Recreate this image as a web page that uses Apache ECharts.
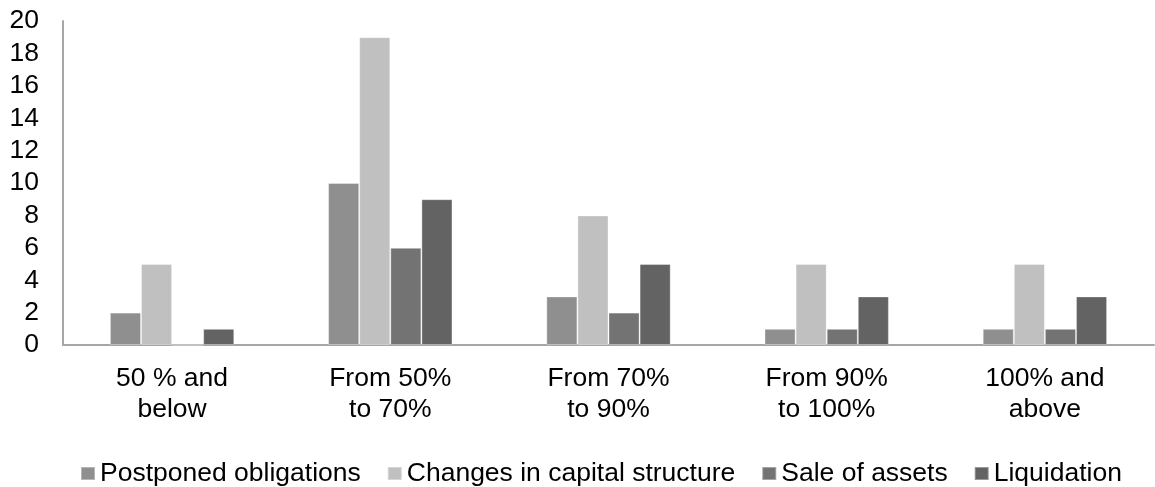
<!DOCTYPE html>
<html>
<head>
<meta charset="utf-8">
<script src="https://cdn.jsdelivr.net/npm/echarts@6/dist/echarts.min.js"></script>
<style>
  html, body { margin: 0; padding: 0; background: #fff; }
  #chart { width: 1155px; height: 487px; }
</style>
</head>
<body>
<div id="chart"></div>
<script>
// Debt ratio brackets and the measures taken in each
const categories = ['50 % and\nbelow', 'From 50%\nto 70%', 'From 70%\nto 90%', 'From 90%\nto 100%', '100% and\nabove'];
const seriesNames = ['Postponed obligations', 'Changes in capital structure', 'Sale of assets', 'Liquidation'];
const postponed = [2, 10, 3, 1, 1];
const capitalChanges = [5, 19, 8, 5, 5];
const assetSales = [0, 6, 2, 1, 1];
const liquidation = [1, 9, 5, 3, 3];
const yTicks = { min: 0, max: 20, interval: 2 };

const colors = ['#8f8f8f', '#c0c0c0', '#737373', '#636363'];
const values = [postponed, capitalChanges, assetSales, liquidation];
const font = 'Arial, "Liberation Sans", sans-serif';

const chart = echarts.init(document.getElementById('chart'), null, { renderer: 'canvas' });
chart.setOption({
  animation: false,
  color: colors,
  grid: { left: 63, right: 1, top: 21, bottom: 142, containLabel: false },
  legend: {
    top: 455,
    left: 75,
    itemWidth: 14,
    itemHeight: 13,
    itemGap: 26,
    icon: 'rect',
    textStyle: { fontFamily: font, fontSize: 26.5, color: '#000' },
    data: seriesNames
  },
  xAxis: {
    type: 'category',
    data: categories,
    axisLine: { lineStyle: { color: '#a6a6a6', width: 2 } },
    axisTick: { show: false },
    axisLabel: { fontFamily: font, fontSize: 26.5, color: '#000', lineHeight: 31, margin: 18 }
  },
  yAxis: {
    type: 'value',
    min: yTicks.min,
    max: yTicks.max,
    interval: yTicks.interval,
    axisLine: { show: true, lineStyle: { color: '#a6a6a6', width: 2 } },
    axisTick: { show: false },
    splitLine: { show: false },
    axisLabel: { fontFamily: font, fontSize: 26.5, color: '#000', margin: 24 }
  },
  series: seriesNames.map((name, i) => ({
    name,
    type: 'bar',
    data: values[i],
    barGap: '0%',
    barCategoryGap: '43%',
    itemStyle: { color: colors[i], borderColor: 'rgba(255,255,255,0.35)', borderWidth: 1 }
  }))
});
</script>
</body>
</html>
